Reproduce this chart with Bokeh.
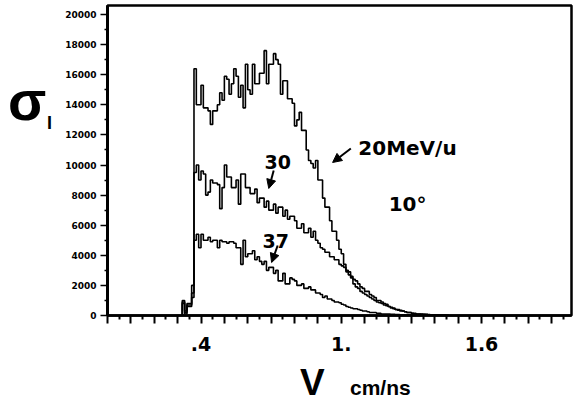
from bokeh.plotting import figure
from bokeh.models import FixedTicker, Label, Arrow, NormalHead, Range1d, Div
from bokeh.layouts import row, column
from bokeh.embed import file_html
from bokeh.resources import INLINE

# ---------------- data ----------------
# histogram bins (velocity, cm/ns)
BIN_START = 0.32
BIN_WIDTH = 0.01

# cross sections, in thousands, one value per bin
sigma_20_k = [
    1.0, 0.3, 0.8, 0.8, 2.0,
    16.4, 14.0, 14.0, 15.3, 13.8,
    13.8, 13.6, 12.7, 13.6, 13.6,
    14.0, 14.8, 14.3, 15.9, 15.7,
    14.7, 15.4, 16.4, 15.9, 14.5,
    15.3, 13.8, 16.7, 15.0, 14.7,
    16.7, 15.4, 15.4, 16.1, 16.1,
    17.6, 15.4, 16.7, 16.7, 17.4,
    17.0, 16.7, 14.7, 15.6, 15.6,
    14.4, 14.4, 14.1, 12.6, 13.0,
    13.5, 12.3, 12.3, 11.0, 10.3,
    10.1, 9.8, 10.3, 9.0, 9.0,
    7.8, 7.2, 7.2, 6.3, 5.6,
    5.6, 5.0, 4.4, 4.1, 3.4,
    2.9, 2.7, 2.5, 2.1, 1.9,
    1.8, 1.6, 1.5, 1.4, 1.3,
    1.2, 1.1, 1.0, 0.9, 0.85,
    0.8, 0.7, 0.65, 0.6, 0.5,
    0.45, 0.4, 0.35, 0.3, 0.3,
    0.25, 0.2, 0.2, 0.15, 0.15,
    0.1, 0.1, 0.1, 0.08, 0.08,
    0.06, 0.05, 0.05, 0.04, 0.03,
    0.02, 0.02, 0.01, 0.0,
]
sigma_30_k = [
    0.9, 0.2, 0.7, 0.7, 1.5,
    9.5, 10.0, 9.0, 9.6, 9.4,
    8.0, 8.2, 9.0, 8.8, 8.8,
    8.7, 7.1, 8.5, 10.0, 9.2,
    9.2, 8.5, 8.5, 9.0, 7.4,
    9.4, 9.4, 8.5, 8.5, 8.1,
    8.1, 8.4, 7.5, 7.8, 7.8,
    7.2, 7.6, 7.0, 7.0, 7.4,
    6.8, 7.2, 7.2, 6.6, 7.0,
    6.4, 6.6, 6.6, 6.3, 5.8,
    5.8, 6.1, 5.5, 5.5, 5.8,
    5.2, 5.6, 5.0, 4.8, 4.5,
    4.4, 4.2, 4.2, 3.9, 3.9,
    3.7, 3.7, 3.4, 3.3, 3.2,
    3.0, 2.9, 2.6, 2.4, 2.3,
    2.1, 1.9, 1.8, 1.6, 1.6,
    1.4, 1.3, 1.2, 1.0, 1.0,
    0.9, 0.8, 0.75, 0.6, 0.55,
    0.5, 0.4, 0.4, 0.35, 0.3,
    0.25, 0.2, 0.2, 0.15, 0.12,
    0.1, 0.1, 0.08, 0.08, 0.06,
    0.05, 0.05, 0.04, 0.03, 0.03,
    0.02, 0.02, 0.01, 0.0,
]
sigma_37_k = [
    0.8, 0.1, 0.6, 0.6, 1.2,
    5.0, 5.4, 4.5, 5.4, 5.0,
    5.0, 5.2, 4.9, 5.0, 5.0,
    4.5, 5.0, 4.9, 4.9, 4.8,
    4.9, 4.9, 4.8, 4.5, 4.5,
    3.4, 5.0, 3.9, 4.1, 4.1,
    4.3, 3.7, 3.9, 3.6, 3.4,
    3.6, 3.0, 3.2, 3.2, 2.8,
    3.0, 2.3, 2.3, 2.8, 2.1,
    2.1, 2.5, 2.4, 2.3, 2.0,
    2.0, 2.1, 1.8, 1.8, 1.9,
    1.7, 1.7, 1.5, 1.5, 1.4,
    1.2, 1.3, 1.1, 1.1, 1.0,
    0.9, 0.9, 0.85, 0.75, 0.7,
    0.6, 0.55, 0.5, 0.45, 0.45,
    0.4, 0.35, 0.3, 0.3, 0.25,
    0.2, 0.2, 0.2, 0.15, 0.15,
    0.1, 0.1, 0.1, 0.1, 0.08,
    0.08, 0.06, 0.06, 0.05, 0.05,
    0.04, 0.04, 0.03, 0.03, 0.02,
    0.02, 0.02, 0.01, 0.01, 0.01,
    0.01, 0.0, 0.0, 0.0, 0.0,
    0.0, 0.0, 0.0, 0.0,
]

y_ticks = [0, 2000, 4000, 6000, 8000, 10000, 12000, 14000, 16000, 18000, 20000]
y_minor_ticks = [1000, 3000, 5000, 7000, 9000, 11000, 13000, 15000, 17000, 19000]
x_label_ticks = {0.4: ".4", 1.0: "1.", 1.6: "1.6"}

# ---------------- figure ----------------
FONT = "DejaVu Sans"

p = figure(width=516, height=360, output_backend="svg", toolbar_location=None,
           x_range=Range1d(0, 1.985), y_range=Range1d(0, 20600),
           min_border_left=47, min_border_right=5, min_border_top=5,
           min_border_bottom=45)
p.grid.visible = False
p.outline_line_color = "black"
p.outline_line_width = 2.5
p.background_fill_color = "white"
p.border_fill_color = "white"


def step_xy(values_k):
    xs = [BIN_START]
    ys = [0.0]
    for i, v in enumerate(values_k):
        xs.append(round(BIN_START + i * BIN_WIDTH, 4))
        ys.append(v * 1000)
    xs.append(round(BIN_START + len(values_k) * BIN_WIDTH, 4))
    ys.append(0.0)
    return xs, ys


for series in (sigma_20_k, sigma_30_k, sigma_37_k):
    xs, ys = step_xy(series)
    p.step(xs, ys, mode="after", line_color="black", line_width=1.6)

# x axis
x_major = [round(0.1 * i, 1) for i in range(0, 20)]
x_minor = [round(0.05 + 0.1 * i, 2) for i in range(0, 20)]
p.xaxis.ticker = FixedTicker(ticks=x_major, minor_ticks=x_minor)
p.xaxis.major_label_overrides = {t: x_label_ticks.get(t, "") for t in x_major}
p.xaxis.major_label_text_font = FONT
p.xaxis.major_label_text_font_style = "bold"
p.xaxis.major_label_text_font_size = "19px"
p.xaxis.major_label_text_color = "black"
p.xaxis.major_label_standoff = 13
p.xaxis.axis_line_width = 2.5
p.xaxis.axis_line_color = "black"
p.xaxis.major_tick_line_width = 2
p.xaxis.major_tick_line_color = "black"
p.xaxis.major_tick_out = 8
p.xaxis.major_tick_in = 0
p.xaxis.minor_tick_line_width = 2
p.xaxis.minor_tick_line_color = "black"
p.xaxis.minor_tick_out = 4
p.xaxis.minor_tick_in = 0

# y axis
p.yaxis.ticker = FixedTicker(ticks=y_ticks, minor_ticks=y_minor_ticks)
p.yaxis.major_label_text_font = FONT
p.yaxis.major_label_text_font_style = "bold"
p.yaxis.major_label_text_font_size = "9px"
p.yaxis.major_label_text_color = "black"
p.yaxis.major_label_standoff = 4
p.yaxis.axis_line_width = 3
p.yaxis.axis_line_color = "black"
p.yaxis.major_tick_line_width = 1.5
p.yaxis.major_tick_line_color = "black"
p.yaxis.major_tick_out = 7
p.yaxis.major_tick_in = 0
p.yaxis.minor_tick_line_width = 1.5
p.yaxis.minor_tick_line_color = "black"
p.yaxis.minor_tick_out = 3
p.yaxis.minor_tick_in = 0


def add_text(x, y, text, size, align="left"):
    p.add_layout(Label(x=x, y=y, text=text, text_font=FONT,
                       text_font_style="bold", text_font_size=size,
                       text_color="black", text_align=align,
                       text_baseline="alphabetic"))


# annotations in the plot (data units)
add_text(1.073, 11100, "20MeV/u", "20px")
add_text(0.728, 10170, "30", "19px", align="center")
add_text(0.720, 4980, "37", "19px", align="center")
add_text(1.203, 7440, "10°", "20px")

for (x0, y0, x1, y1) in [(1.041, 11100, 0.963, 10170),
                         (0.711, 9630, 0.690, 8440),
                         (0.728, 4650, 0.702, 3520)]:
    p.add_layout(Arrow(end=NormalHead(size=9, fill_color="black", line_color="black"),
                       x_start=x0, y_start=y0, x_end=x1, y_end=y1,
                       line_color="black", line_width=2))

# axis titles (outside the frame)
sigma_div = Div(
    width=60, height=403, margin=(0, 0, 0, 0),
    text=('<svg width="60" height="403" style="display:block" xmlns="http://www.w3.org/2000/svg">'
          '<text x="8" y="120" font-family="DejaVu Sans" font-weight="bold" font-size="56">σ</text>'
          '<text x="47" y="129" font-family="DejaVu Serif" font-weight="bold" font-size="18">I</text>'
          '</svg>'))
v_div = Div(
    width=516, height=43, margin=(0, 0, 0, 0),
    text=('<svg width="516" height="43" style="display:block" xmlns="http://www.w3.org/2000/svg">'
          '<text x="240" y="35" font-family="DejaVu Sans" font-weight="bold" font-size="37">V</text>'
          '<text x="290" y="35" font-family="DejaVu Sans" font-weight="bold" font-size="21">cm/ns</text>'
          '</svg>'))

layout = row(sigma_div, column(p, v_div, spacing=0), spacing=0)

open("out.html", "w").write(file_html(layout, INLINE))
